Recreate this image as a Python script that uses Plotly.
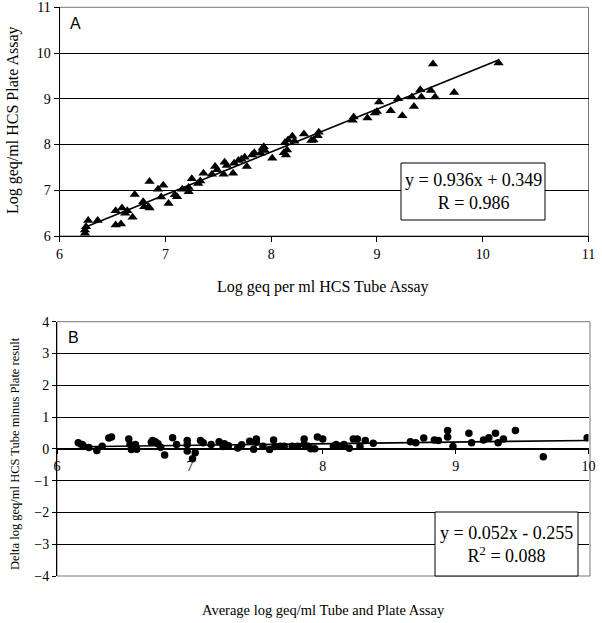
import numpy as np
import plotly.graph_objects as go

W, H = 602, 623

# ---------------- Panel A data (Tube vs Plate, log geq/ml) ----------------
a_tube = [6.24, 6.24, 6.25, 6.27, 6.36, 6.53, 6.53, 6.58, 6.59, 6.62, 6.64, 6.69, 6.71,
          6.79, 6.80, 6.84, 6.85, 6.85, 6.93, 6.96, 6.98, 7.03, 7.09, 7.11, 7.16, 7.22,
          7.22, 7.25, 7.31, 7.33, 7.36, 7.44, 7.47, 7.49, 7.55, 7.56, 7.58, 7.64, 7.65,
          7.69, 7.72, 7.75, 7.77, 7.82, 7.84, 7.90, 7.92, 7.93, 7.94, 8.01, 8.12, 8.13,
          8.14, 8.15, 8.16, 8.20, 8.22, 8.31, 8.38, 8.40, 8.44, 8.45, 8.77, 8.78, 8.91,
          8.98, 9.00, 9.02, 9.13, 9.20, 9.24, 9.33, 9.35, 9.41, 9.42, 9.51, 9.53, 9.55,
          9.73, 10.15]
a_plate = [6.13, 6.06, 6.20, 6.34, 6.34, 6.55, 6.24, 6.26, 6.61, 6.50, 6.55, 6.41, 6.91,
           6.75, 6.64, 6.64, 7.19, 6.61, 7.02, 6.85, 7.11, 6.71, 6.90, 6.86, 7.02, 6.97,
           7.06, 7.25, 7.15, 7.20, 7.37, 7.35, 7.52, 7.45, 7.35, 7.61, 7.54, 7.37, 7.59,
           7.65, 7.68, 7.72, 7.52, 7.77, 7.82, 7.81, 7.92, 7.95, 7.87, 7.70, 7.82, 8.04,
           7.77, 7.88, 8.10, 8.18, 8.07, 8.23, 8.09, 8.10, 8.19, 8.27, 8.53, 8.60, 8.58,
           8.69, 8.72, 8.93, 8.74, 9.00, 8.63, 9.04, 8.83, 9.20, 9.04, 9.18, 9.76, 9.04,
           9.14, 9.78]
a_slope, a_intercept = 0.936, 0.349
a_eq = "y = 0.936x + 0.349<br>R = 0.986"

# ---------------- Panel B data (average vs delta) ----------------
b_avg = [6.16, 6.19, 6.20, 6.24, 6.30, 6.34, 6.39, 6.41, 6.54, 6.55, 6.56, 6.59, 6.60,
         6.71, 6.72, 6.74, 6.76, 6.78, 6.81, 6.87, 6.90, 6.98, 6.98, 6.98, 7.02, 7.04,
         7.08, 7.10, 7.16, 7.22, 7.25, 7.26, 7.29, 7.36, 7.39, 7.45, 7.48, 7.50, 7.50,
         7.55, 7.60, 7.63, 7.64, 7.68, 7.71, 7.77, 7.81, 7.86, 7.86, 7.89, 7.91, 7.94,
         7.96, 8.00, 8.08, 8.10, 8.13, 8.16, 8.20, 8.23, 8.26, 8.28, 8.32, 8.38, 8.66,
         8.70, 8.76, 8.84, 8.87, 8.94, 8.94, 8.98, 9.10, 9.12, 9.21, 9.25, 9.30, 9.32,
         9.36, 9.45, 9.66, 9.99]
b_delta = [0.19, 0.14, 0.08, 0.04, -0.05, 0.08, 0.34, 0.37, 0.31, 0.14, -0.02, 0.14, -0.01,
           0.21, 0.26, 0.22, 0.16, 0.05, -0.19, 0.35, 0.14, 0.26, 0.14, -0.07, -0.31, -0.12,
           0.26, 0.19, 0.14, 0.22, 0.07, 0.16, 0.10, 0.03, 0.13, 0.24, -0.01, 0.31, 0.21,
           0.08, -0.02, 0.28, 0.07, 0.08, 0.08, 0.08, 0.08, 0.31, 0.14, 0.08, 0.00, 0.00,
           0.37, 0.31, 0.08, 0.14, 0.08, 0.14, 0.02, 0.31, 0.31, 0.08, 0.26, 0.18, 0.22,
           0.19, 0.34, 0.28, 0.26, 0.37, 0.58, 0.07, 0.49, 0.19, 0.28, 0.35, 0.49, 0.19,
           0.31, 0.58, -0.25, 0.35]
b_slope, b_intercept = 0.052, -0.255
b_eq = "y = 0.052x - 0.255<br>R<sup>2</sup> = 0.088"

a_xticks = [6, 7, 8, 9, 10, 11]
a_yticks = [6, 7, 8, 9, 10, 11]
b_xticks = [6, 7, 8, 9, 10]
b_yticks = [-4, -3, -2, -1, 0, 1, 2, 3, 4]

SERIF = "Liberation Serif"
SANS = "Liberation Sans"

def px_x(p):
    return p / W

def px_y(p):
    return 1 - p / H

# domains (pixels)
A_left, A_right, A_top, A_bot = 59.6, 588.5, 7.3, 236.0
B_left, B_right, B_top, B_bot = 57.0, 588.5, 321.7, 576.0

fig = go.Figure()

# Panel A
ax = np.array([min(a_tube), max(a_tube)])
fig.add_trace(go.Scatter(x=a_tube, y=a_plate, mode="markers",
                         marker=dict(symbol="triangle-up", size=9, color="black"),
                         xaxis="x", yaxis="y", showlegend=False))
fig.add_trace(go.Scatter(x=ax, y=a_slope * ax + a_intercept, mode="lines",
                         line=dict(color="black", width=1.6),
                         xaxis="x", yaxis="y", showlegend=False))

# Panel B
bx = np.array([min(b_avg), max(b_avg)])
fig.add_trace(go.Scatter(x=b_avg, y=b_delta, mode="markers",
                         marker=dict(symbol="circle", size=7.5, color="black"),
                         xaxis="x2", yaxis="y2", showlegend=False))
fig.add_trace(go.Scatter(x=bx, y=b_slope * bx + b_intercept, mode="lines",
                         line=dict(color="black", width=1.6),
                         xaxis="x2", yaxis="y2", showlegend=False))

tickfont = dict(family=SERIF, size=14, color="black")

b_y0_paper = px_y(B_bot) + (0 - (-4)) / 8 * (px_y(B_top) - px_y(B_bot))

common = dict(automargin=False, zeroline=False, showline=True, linecolor="black",
              tickcolor="black", tickfont=tickfont, ticks="outside")

fig.update_layout(
    template="none",
    width=W, height=H,
    margin=dict(l=0, r=0, t=0, b=0, autoexpand=False),
    paper_bgcolor="white", plot_bgcolor="white",
    xaxis=dict(domain=[px_x(A_left), px_x(A_right)], range=[6, 11], anchor="y",
               tickvals=a_xticks, showgrid=False, linewidth=1, ticklen=5, **common),
    yaxis=dict(domain=[px_y(A_bot), px_y(A_top)], range=[6, 11], anchor="x",
               tickvals=a_yticks, showgrid=True, gridcolor="black", gridwidth=1,
               linewidth=1, ticklen=5, **common),
    xaxis2=dict(domain=[px_x(B_left), px_x(B_right)], range=[6, 10], anchor="free",
                position=b_y0_paper, tickvals=b_xticks, showgrid=False,
                linewidth=1.2, ticklen=4, **common),
    yaxis2=dict(domain=[px_y(B_bot), px_y(B_top)], range=[-4, 4], anchor="x2",
                tickvals=b_yticks, showgrid=True, gridcolor="black", gridwidth=1,
                linewidth=1, ticklen=4, **common),
)

shapes = [
    # panel A border (gray right/top)
    dict(type="rect", xref="paper", yref="paper",
         x0=px_x(A_left), x1=px_x(A_right), y0=px_y(A_bot), y1=px_y(A_top),
         line=dict(color="#777777", width=1), layer="below"),
    # panel B border
    dict(type="rect", xref="paper", yref="paper",
         x0=px_x(B_left), x1=px_x(B_right + 1.5), y0=px_y(B_bot), y1=px_y(B_top),
         line=dict(color="#777777", width=1), layer="below"),
    # equation box A
    dict(type="rect", xref="paper", yref="paper",
         x0=px_x(401), x1=px_x(545), y0=px_y(220), y1=px_y(163),
         line=dict(color="black", width=1), fillcolor="white", layer="above"),
    # equation box B
    dict(type="rect", xref="paper", yref="paper",
         x0=px_x(435), x1=px_x(578), y0=px_y(576), y1=px_y(512),
         line=dict(color="black", width=1), fillcolor="white", layer="above"),
]
fig.update_layout(shapes=shapes)


def ann(text, x, y, size, family=SERIF, angle=0):
    return dict(text=text, x=px_x(x), y=px_y(y), xref="paper", yref="paper",
                showarrow=False, xanchor="center", yanchor="middle", textangle=angle,
                align="center", font=dict(family=family, size=size, color="black"))

annotations = [
    ann("A", 75, 23, 16, SANS),
    ann("B", 73, 337, 16, SANS),
    ann(a_eq, 473, 192, 18),
    ann(b_eq, 506, 544, 18),
    ann("Log geq per ml HCS Tube Assay", 323, 287, 16),
    ann("Log geq/ml HCS Plate Assay", 13, 120, 16, angle=-90),
    ann("Average log geq/ml Tube and Plate Assay", 323, 610, 14.5),
    ann("Delta log geq/ml HCS Tube minus Plate result", 15, 454, 12.5, angle=-90),
]
fig.update_layout(annotations=annotations)

fig.write_html("out.html", config={"displayModeBar": False},
               post_script="document.body.style.margin='0';")
